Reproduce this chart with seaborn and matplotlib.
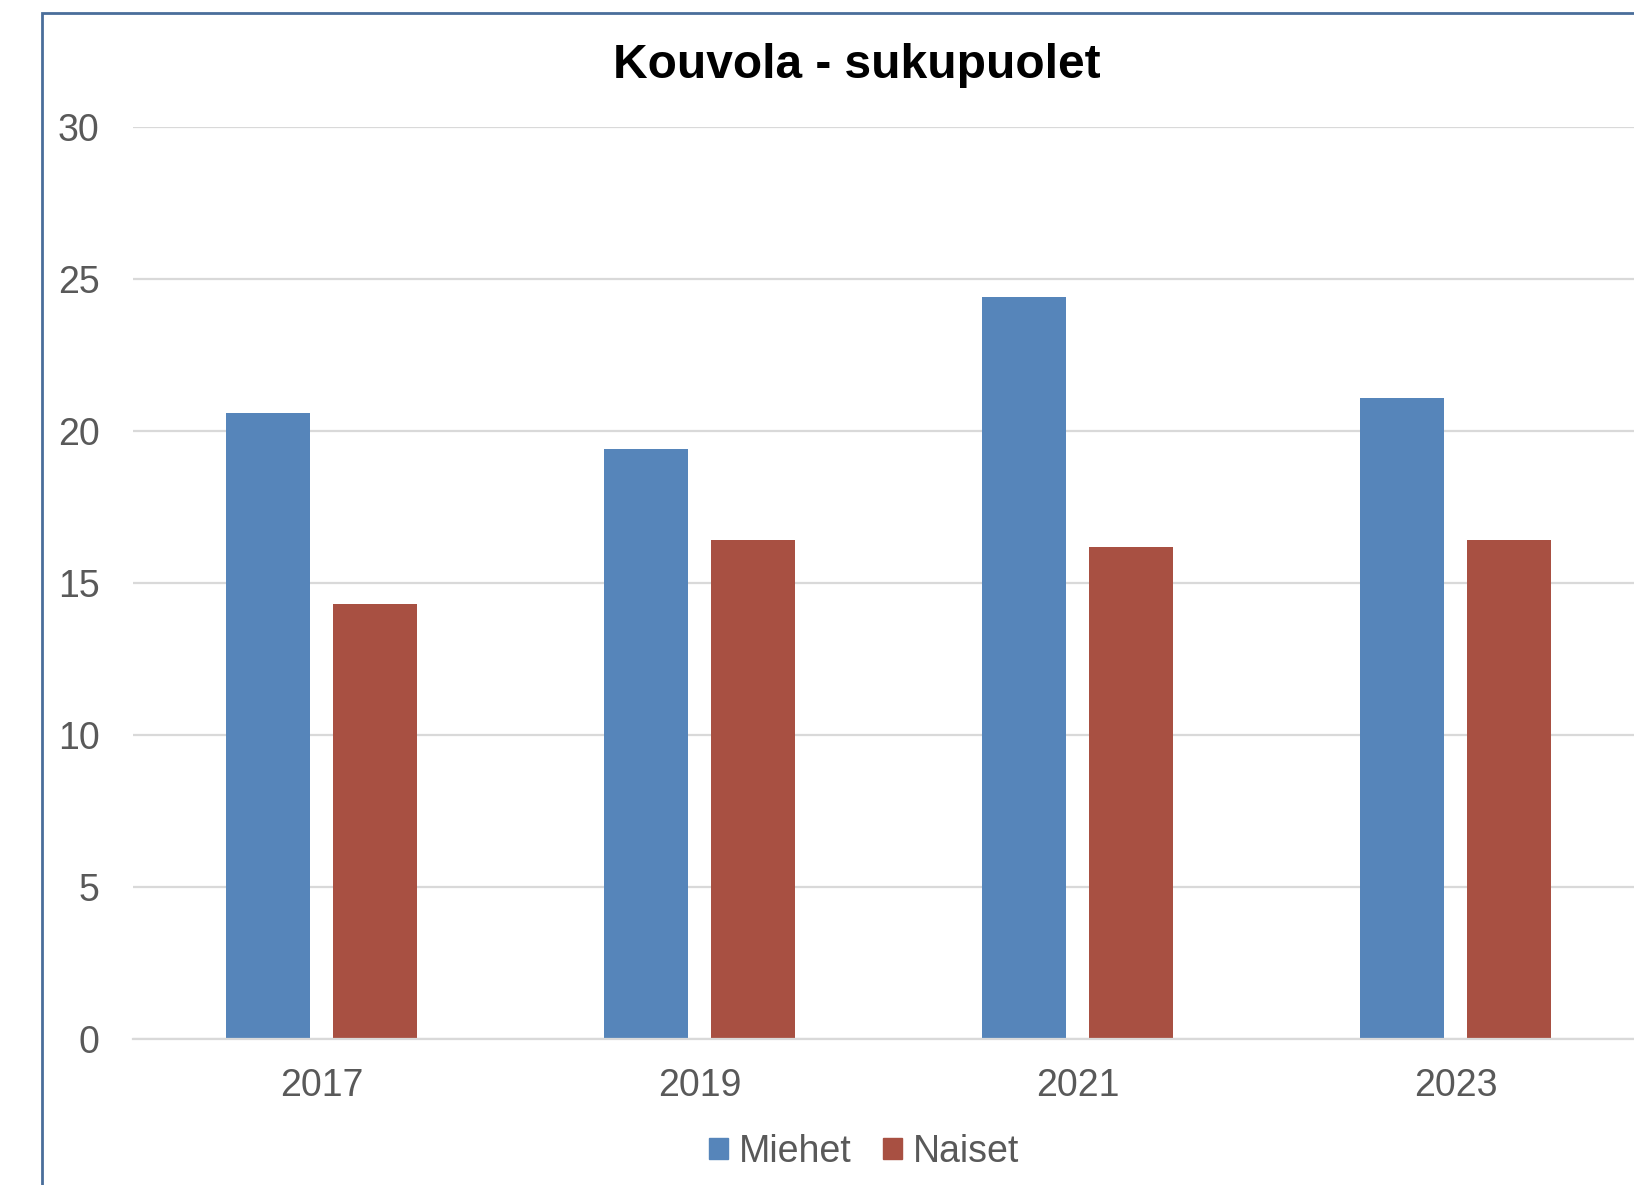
import matplotlib
matplotlib.use("Agg")
import matplotlib.pyplot as plt
import matplotlib.patches as mpatches
import pandas as pd
import seaborn as sns

# values
years = ["2017", "2019", "2021", "2023"]
miehet = [20.6, 19.4, 24.4, 21.1]
naiset = [14.3, 16.4, 16.2, 16.4]
series_names = ["Miehet", "Naiset"]
colors = ["#5685BA", "#A85042"]

df = pd.DataFrame({
    "vuosi": years * 2,
    "arvo": miehet + naiset,
    "sukupuoli": [series_names[0]] * len(years) + [series_names[1]] * len(years),
})

sns.set_theme(style="white")
plt.rcParams["font.family"] = ["Liberation Sans", "DejaVu Sans"]

fig = plt.figure(figsize=(16.34, 11.85), dpi=100)
ax = fig.add_axes([0.0814, 0.1232, 0.925, 0.7696])

sns.barplot(data=df, x="vuosi", y="arvo", hue="sukupuoli", order=years,
            hue_order=series_names, palette=colors, width=0.566, gap=0.215,
            saturation=1, linewidth=0, ax=ax, legend=False)

ax.set_xlim(-0.5, 3.5)
ax.set_ylim(0, 30)
ax.set_yticks(range(0, 31, 5))
ax.yaxis.grid(True, color="#D9D9D9", linewidth=1.6)
ax.set_axisbelow(True)
for s in ["left", "right", "top"]:
    ax.spines[s].set_visible(False)
ax.spines["bottom"].set_color("#D9D9D9")
ax.spines["bottom"].set_linewidth(1.6)
ax.set_xlabel("")
ax.set_ylabel("")
ax.tick_params(axis="y", length=0, pad=24, labelsize=27, labelcolor="#595959")
ax.tick_params(axis="x", length=0, pad=21, labelsize=27, labelcolor="#595959")

fig.text(0.5245, 0.945, "Kouvola - sukupuolet", ha="center", va="center",
         fontsize=34.5, fontweight="bold", color="black")

handles = [mpatches.Patch(color=c, label=n) for c, n in zip(colors, series_names)]
fig.legend(handles=handles, loc="center", bbox_to_anchor=(0.529, 0.028), ncol=2,
           frameon=False, fontsize=27, labelcolor="#595959", handlelength=0.5,
           handleheight=0.5, handletextpad=0.3, columnspacing=0.83)

# outer chart frame, cut off at right and bottom
frame = mpatches.Rectangle((42 / 1634, -0.1), 1.2, 1.1 - 13 / 1185,
                           transform=fig.transFigure, fill=False,
                           edgecolor="#4A6E9A", linewidth=2, zorder=10)
fig.patches.append(frame)

fig.savefig("out.png", dpi=100)
